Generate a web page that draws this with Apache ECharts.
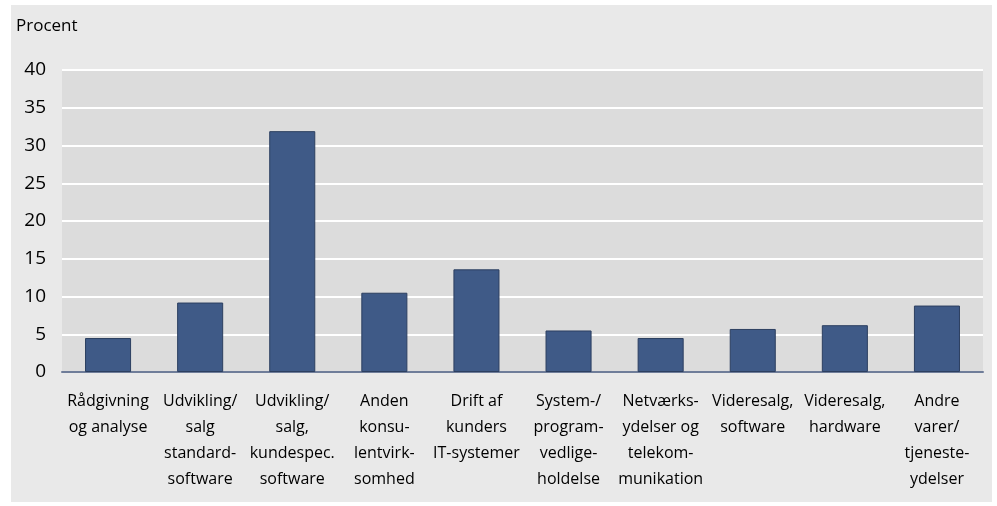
<!DOCTYPE html>
<html><head><meta charset="utf-8">
<script src="https://cdn.jsdelivr.net/npm/echarts@6/dist/echarts.min.js"></script>
<style>html,body{margin:0;padding:0;background:#fff}#c{position:absolute;left:11px;top:5px;width:981px;height:497px;background:#e9e9e9}</style>
</head><body><div id="c"></div>
<script>
const categories = ["Rådgivning\nog analyse","Udvikling/\nsalg\nstandard-\nsoftware","Udvikling/\nsalg,\nkundespec.\nsoftware","Anden\nkonsu-\nlentvirk-\nsomhed","Drift af\nkunders\nIT-systemer","System-/\nprogram-\nvedlige-\nholdelse","Netværks-\nydelser og\ntelekom-\nmunikation","Videresalg,\nsoftware","Videresalg,\nhardware","Andre\nvarer/\ntjeneste-\nydelser"];
const values = [4.5, 9.2, 31.9, 10.5, 13.6, 5.5, 4.5, 5.7, 6.2, 8.8];
const yTicks = [0, 5, 10, 15, 20, 25, 30, 35, 40];
const unitLabel = "Procent";

const font = "'Liberation Sans Narrow','Open Sans',sans-serif";
const chart = echarts.init(document.getElementById('c'), null, {renderer:'canvas'});
chart.setOption({
  backgroundColor: '#e9e9e9',
  animation: false,
  title: {text: unitLabel, left: 0, top: 8, textStyle: {fontFamily: font, fontSize: 17, fontWeight: 'normal', color: '#000'}},
  grid: {left: 51, right: 9, top: 65, bottom: 130, containLabel: false},
  xAxis: {
    type: 'category', data: categories,
    axisLine: {show: true, lineStyle: {color: '#6f7d99', width: 2}},
    axisTick: {show: false},
    axisLabel: {interval: 0, color: '#000', fontFamily: font, fontSize: 16, lineHeight: 26, margin: 16}
  },
  yAxis: {
    type: 'value', min: yTicks[0], max: yTicks[yTicks.length-1], interval: 5,
    axisLine: {show: false}, axisTick: {show: false},
    axisLabel: {color: '#000', fontFamily: font, fontSize: 19, margin: 16},
    splitLine: {show: true, lineStyle: {color: '#ffffff', width: 2}},
    splitArea: {show: true, areaStyle: {color: ['#dcdcdc', '#dcdcdc']}}
  },
  series: [{
    type: 'bar', data: values, barWidth: '50%',
    itemStyle: {color: '#3f5a87', borderColor: '#2c3f60', borderWidth: 1}
  }]
});
</script></body></html>
